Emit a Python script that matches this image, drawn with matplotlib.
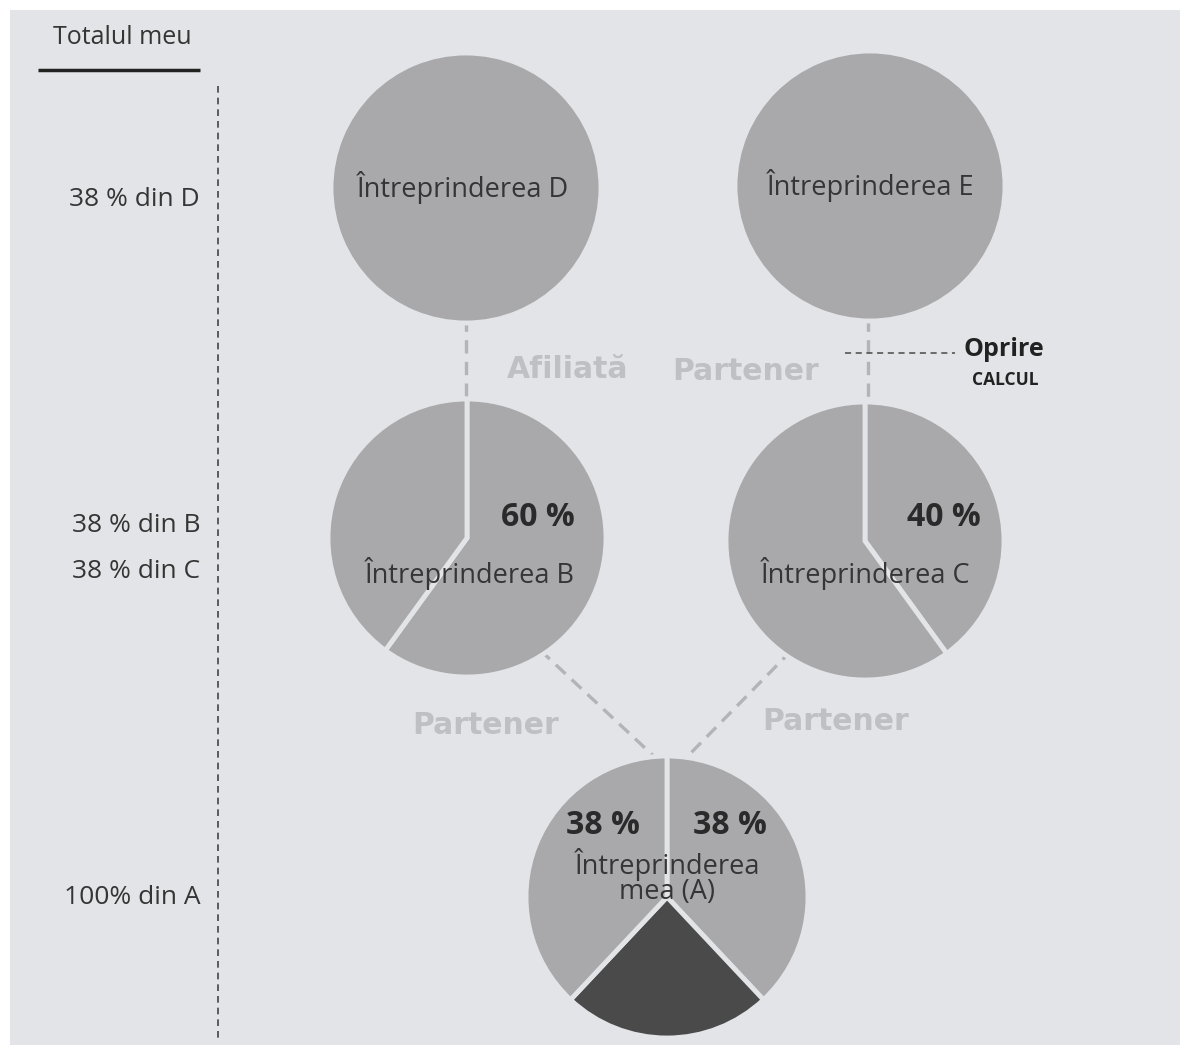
import matplotlib
matplotlib.use("Agg")
import matplotlib.pyplot as plt
from matplotlib.patches import Rectangle

plt.rcParams['font.family'] = ['Open Sans', 'DejaVu Sans']

W, H = 1185, 1049

# Shares of each company, clockwise from 12 o'clock
shares_d = [100]
shares_e = [100]
shares_b = [60, 40]
shares_c = [40, 60]
shares_a = [38, 24, 38]

company_names = ["Întreprinderea D", "Întreprinderea E", "Întreprinderea B",
                 "Întreprinderea C", "Întreprinderea\nmea (A)"]
pct_labels_b = ["60 %"]
pct_labels_c = ["40 %"]
pct_labels_a = ["38 %", "38 %"]

# Left column: what counts in my total
total_labels = ["38 % din D", "38 % din B", "38 % din C", "100% din A"]
relation_labels = ["Afiliată", "Partener", "Partener", "Partener"]

BG = '#e3e4e7'
LIGHT = '#a9a9ab'
DARK = '#4a4a4b'
TXT = '#353535'
FAINT = '#bfc0c4'


def fy(y):
    # pixel row (from top) -> data y
    return H - y


fig = plt.figure(figsize=(W / 100, H / 100), dpi=100, facecolor='white')
ax = fig.add_axes([0, 0, 1, 1])

# grey page area of the scan
ax.add_patch(Rectangle((10, fy(1045)), 1170, 1035, fc=BG, ec='none', zorder=0))

# connectors between companies
conn = dict(color='#b3b4b7', lw=2.4, dashes=(4, 2.5), zorder=1)
ax.plot([466, 466], [fy(318), fy(405)], **conn)
ax.plot([868, 868], [fy(318), fy(405)], **conn)
ax.plot([540, 660], [fy(650), fy(762)], **conn)
ax.plot([792, 682], [fy(650), fy(762)], **conn)


def draw_pie(values, colors, cx, cy, r):
    ax.pie(values, colors=colors, startangle=90, counterclock=False,
           center=(cx, fy(cy)), radius=r, frame=True,
           wedgeprops=dict(edgecolor=BG, linewidth=3.5, zorder=2))


draw_pie(shares_d, [LIGHT], 466, 188, 135)
draw_pie(shares_e, [LIGHT], 870, 186, 135)
draw_pie(shares_b, [LIGHT, LIGHT], 467, 538, 139)
draw_pie(shares_c, [LIGHT, LIGHT], 865, 541, 139)
draw_pie(shares_a, [LIGHT, DARK, LIGHT], 667, 897, 141)

# names inside the circles
name_pos = [(463, 187), (870, 186), (470, 574), (865, 573), (667, 877)]
for name, (x, y) in zip(company_names, name_pos):
    ax.text(x, fy(y), name, ha='center', va='center', fontsize=19.5,
            color=TXT, linespacing=0.88, zorder=5)

pct = dict(ha='center', va='center', fontsize=23, fontweight='bold',
           color='#2a2a2a', zorder=5)
ax.text(538, fy(518), pct_labels_b[0], **pct)
ax.text(944, fy(517), pct_labels_c[0], **pct)
ax.text(603, fy(826), pct_labels_a[0], **pct)
ax.text(730, fy(825), pct_labels_a[1], **pct)

# faint relation labels
rel_pos = [(568, 369), (746, 372), (486, 726), (836, 722)]
for lab, (x, y) in zip(relation_labels, rel_pos):
    ax.text(x, fy(y), lab, ha='center', va='center', fontsize=21.5,
            fontweight='bold', family='DejaVu Sans', color=FAINT, zorder=3)

# stop calculation marker
ax.plot([845, 955], [fy(353), fy(353)], color='#4a4a4a', lw=1.1,
        dashes=(4, 3), zorder=4)
ax.text(1004, fy(349), "Oprire", ha='center', va='center', fontsize=18,
        fontweight='bold', color='#222222')
ax.text(1005, fy(380), "CALCUL", ha='center', va='center', fontsize=12.5,
        fontweight='bold', color='#222222')

# left column
ax.text(122, fy(37), "Totalul meu", ha='center', va='center', fontsize=18,
        color=TXT)
ax.plot([38, 200], [fy(70), fy(70)], color='#222222', lw=2.5,
        solid_capstyle='butt')
ax.plot([218, 218], [fy(86), fy(1040)], color='#444444', lw=1.2,
        dashes=(4, 3))
left_y = [199, 525, 571, 897]
for lab, y in zip(total_labels, left_y):
    ax.text(200, fy(y), lab, ha='right', va='center', fontsize=19,
            color=TXT)

ax.set_xlim(0, W)
ax.set_ylim(0, H)
ax.set_aspect('equal')
ax.axis('off')

fig.savefig('out.png', dpi=100, facecolor='white')
